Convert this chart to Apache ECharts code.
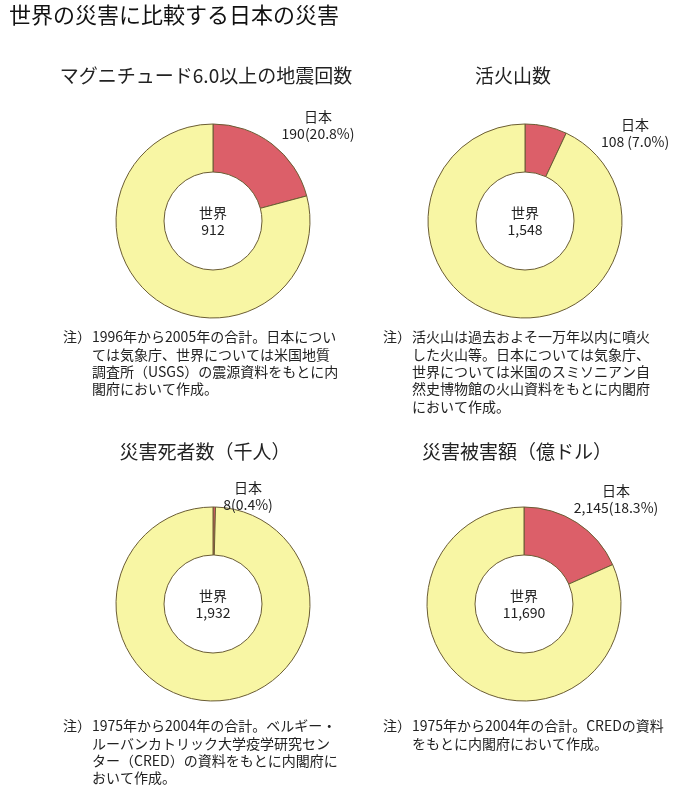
<!DOCTYPE html>
<html>
<head>
<meta charset="utf-8">
<script src="https://cdn.jsdelivr.net/npm/echarts@6/dist/echarts.min.js"></script>
<style>
  html, body { margin: 0; padding: 0; background: #fff; }
  #container { width: 692px; height: 803px; }
</style>
</head>
<body>
<div id="container"></div>
<script>
// values
const mainTitle = '世界の災害に比較する日本の災害';
const categories = ['マグニチュード6.0以上の地震回数', '活火山数', '災害死者数（千人）', '災害被害額（億ドル）'];
const worldTotals = [912, 1548, 1932, 11690];
const japanValues = [190, 108, 8, 2145];
const japanShares = [20.8, 7.0, 0.4, 18.3];
const japanGap = ['', ' ', '', ''];   // chart 2 shows a blank before the bracket
const notes = [
    ['1996年から2005年の合計。日本につい', 'ては気象庁、世界については米国地質', '調査所（USGS）の震源資料をもとに内', '閣府において作成。'],
    ['活火山は過去およそ一万年以内に噴火', 'した火山等。日本については気象庁、', '世界については米国のスミソニアン自', '然史博物館の火山資料をもとに内閣府', 'において作成。'],
    ['1975年から2004年の合計。ベルギー・', 'ルーバンカトリック大学疫学研究セン', 'ター（CRED）の資料をもとに内閣府に', 'おいて作成。'],
    ['1975年から2004年の合計。CREDの資料', 'をもとに内閣府において作成。']
];

// layout of the four panels (pixels)
const panels = [
    { cx: 213, cy: 221, tx: 206, ty: 76,  lx: 318, ly: 125, nx: 63,  ny: 337 },
    { cx: 525, cy: 221, tx: 513, ty: 76,  lx: 635, ly: 133, nx: 383, ny: 337 },
    { cx: 213, cy: 604, tx: 205, ty: 452, lx: 248, ly: 496, nx: 63,  ny: 726 },
    { cx: 524, cy: 604, tx: 517, ty: 452, lx: 616, ly: 499, nx: 383, ny: 726 }
];

const FONT = '"Noto Sans CJK JP", "Noto Sans", sans-serif';
const RED = '#dc5f69';
const YELLOW = '#f8f6a4';
const EDGE = '#6b5d34';
const NOTE_LH = 17.3;

function fmt(n) {
    return n.toLocaleString('en-US');
}

let titles = [{
    text: mainTitle,
    left: 9, top: 4, padding: 0,
    textStyle: { fontFamily: FONT, fontSize: 22, fontWeight: 'normal', color: '#111' }
}];

let series = [];

panels.forEach(function (p, i) {
    titles.push({
        text: categories[i],
        left: p.tx, top: p.ty - 9.5, padding: 0, textAlign: 'center',
        textStyle: { fontFamily: FONT, fontSize: 19, fontWeight: 'normal', color: '#222', lineHeight: 19 }
    });
    titles.push({
        text: '注）',
        left: p.nx, top: p.ny - NOTE_LH / 2, padding: 0,
        textStyle: { fontFamily: FONT, fontSize: 14, fontWeight: 'normal', color: '#222', lineHeight: NOTE_LH }
    });
    titles.push({
        text: notes[i].join('\n'),
        left: p.nx + 29, top: p.ny - NOTE_LH / 2, padding: 0,
        textStyle: { fontFamily: FONT, fontSize: 14, fontWeight: 'normal', color: '#222', lineHeight: NOTE_LH }
    });

    series.push({
        type: 'pie',
        center: [p.cx, p.cy],
        radius: [49, 97],
        startAngle: 90,
        clockwise: true,
        silent: true,
        animation: false,
        itemStyle: { borderColor: EDGE, borderWidth: 1 },
        labelLine: { show: false },
        data: [
            {
                name: '日本',
                value: japanValues[i],
                itemStyle: { color: RED },
                label: {
                    show: true,
                    overflow: 'none',
                    formatter: '日本\n' + fmt(japanValues[i]) + japanGap[i] + '(' + japanShares[i].toFixed(1) + '%)',
                    fontFamily: FONT, fontSize: 14, lineHeight: 16.5, color: '#222', align: 'center'
                }
            },
            {
                name: '世界',
                value: worldTotals[i] - japanValues[i],
                itemStyle: { color: YELLOW },
                label: {
                    show: true,
                    position: 'center',
                    overflow: 'none',
                    formatter: '世界\n' + fmt(worldTotals[i]),
                    fontFamily: FONT, fontSize: 14, lineHeight: 17, color: '#222'
                }
            }
        ],
        labelLayout: function (params) {
            if (params.dataIndex === 0) {
                return { x: p.lx, y: p.ly, align: 'center', verticalAlign: 'middle' };
            }
            return {};
        }
    });
});

let option = {
    backgroundColor: '#ffffff',
    animation: false,
    title: titles,
    series: series
};

let chartDom = document.getElementById('container');
let chrt = echarts.init(chartDom);
chrt.setOption(option);
</script>
</body>
</html>
